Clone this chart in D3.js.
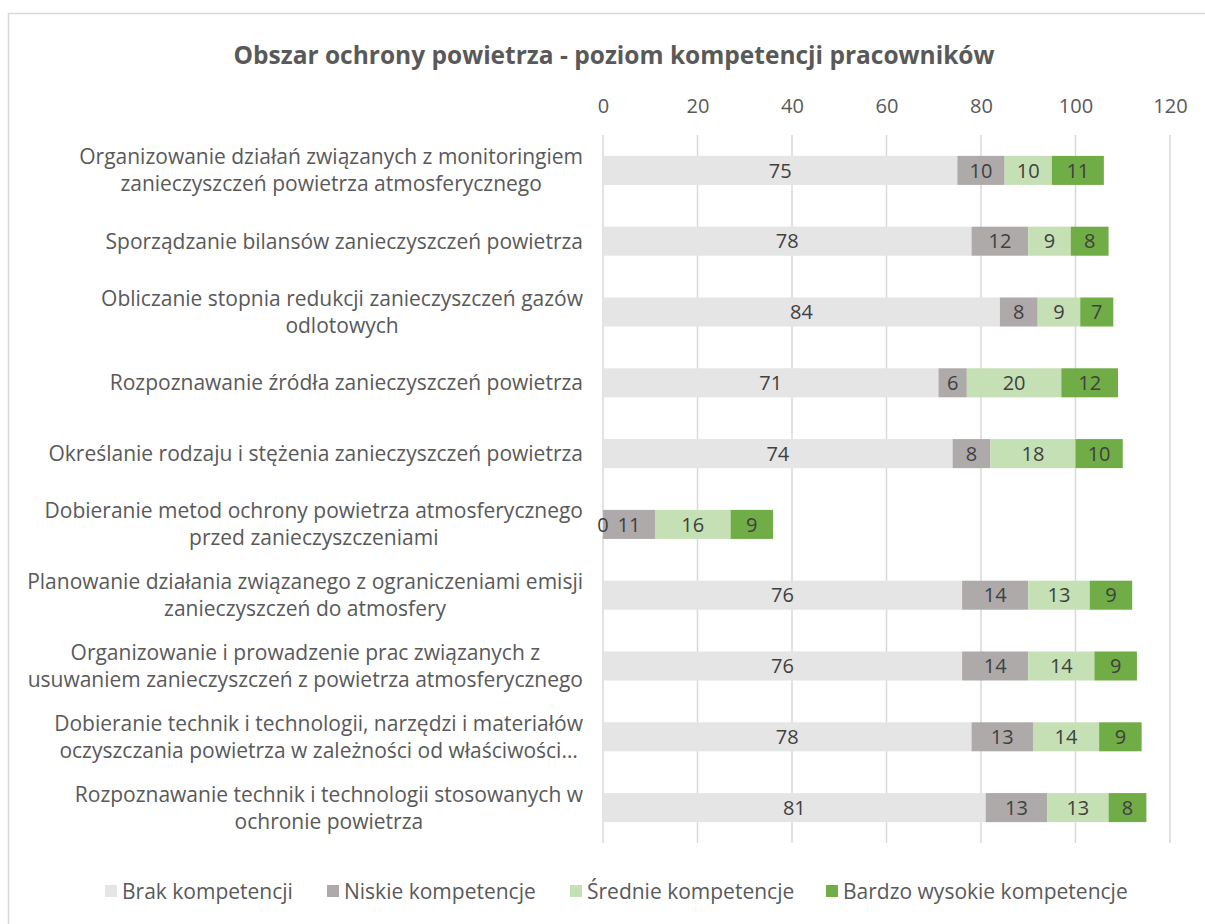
<!DOCTYPE html>
<html>
<head>
<meta charset="utf-8">
<script src="https://cdn.jsdelivr.net/npm/d3@7"></script>
<style>
  body { margin: 0; background: #fff; }
  text { font-family: "Open Sans", sans-serif; }
</style>
</head>
<body>
<div id="chart"></div>
<script>
const WIDTH = 1205;
const HEIGHT = 924;

// Data
const categories = [
  ["Organizowanie działań związanych z monitoringiem", "zanieczyszczeń powietrza atmosferycznego"],
  ["Sporządzanie bilansów zanieczyszczeń powietrza"],
  ["Obliczanie stopnia redukcji zanieczyszczeń gazów", "odlotowych"],
  ["Rozpoznawanie źródła zanieczyszczeń powietrza"],
  ["Określanie rodzaju i stężenia zanieczyszczeń powietrza"],
  ["Dobieranie metod ochrony powietrza atmosferycznego", "przed zanieczyszczeniami"],
  ["Planowanie działania związanego z ograniczeniami emisji", "zanieczyszczeń do atmosfery"],
  ["Organizowanie i prowadzenie prac związanych z", "usuwaniem zanieczyszczeń z powietrza atmosferycznego"],
  ["Dobieranie technik i technologii, narzędzi i materiałów", "oczyszczania powietrza w zależności od właściwości…"],
  ["Rozpoznawanie technik i technologii stosowanych w", "ochronie powietrza"],
];
const seriesNames = ["Brak kompetencji", "Niskie kompetencje", "Średnie kompetencje", "Bardzo wysokie kompetencje"];
const brak = [75, 78, 84, 71, 74, 0, 76, 76, 78, 81];
const niskie = [10, 12, 8, 6, 8, 11, 14, 14, 13, 13];
const srednie = [10, 9, 9, 20, 18, 16, 13, 14, 14, 13];
const bardzo = [11, 8, 7, 12, 10, 9, 9, 9, 9, 8];
const xTicks = [0, 20, 40, 60, 80, 100, 120];
const colors = ["#e5e5e5", "#aeaaaa", "#c5e0b4", "#70ad47"];

const rows = categories.map((c, i) => ({
  idx: i,
  s0: brak[i], s1: niskie[i], s2: srednie[i], s3: bardzo[i],
}));
const keys = ["s0", "s1", "s2", "s3"];

const svg = d3.select("#chart").append("svg")
  .attr("width", WIDTH).attr("height", HEIGHT);

// Chart frame
svg.append("rect")
  .attr("x", 8.5).attr("y", 13.5)
  .attr("width", WIDTH + 20).attr("height", HEIGHT + 20)
  .attr("fill", "#fff").attr("stroke", "#d9d9d9").attr("stroke-width", 1.5);

// Title
svg.append("text")
  .attr("x", 614).attr("y", 64)
  .attr("text-anchor", "middle")
  .attr("font-size", "24.5px").attr("font-weight", "bold")
  .attr("fill", "#595959")
  .text("Obszar ochrony powietrza - poziom kompetencji pracowników");

const x = d3.scaleLinear().domain([0, 120]).range([603, 1170]);
const y = d3.scaleBand().domain(d3.range(categories.length)).range([135, 843]).paddingInner(0.59).paddingOuter(0.295);

// Gridlines
svg.append("g").selectAll("line").data(xTicks).join("line")
  .attr("x1", d => x(d)).attr("x2", d => x(d))
  .attr("y1", 135).attr("y2", 843)
  .attr("stroke", "#d9d9d9").attr("stroke-width", 1.5);

// Top axis labels
const axis = svg.append("g")
  .attr("transform", "translate(0,113)")
  .call(d3.axisTop(x).tickValues(xTicks).tickSize(0).tickPadding(0));
axis.select(".domain").remove();
axis.selectAll("text")
  .attr("font-family", "Open Sans, sans-serif")
  .attr("font-size", "20px").attr("fill", "#595959");

// Stacked bars
const stack = d3.stack().keys(keys)(rows);
const layer = svg.append("g").selectAll("g").data(stack).join("g")
  .attr("fill", (d, i) => colors[i]);
layer.selectAll("rect").data(d => d).join("rect")
  .attr("x", d => x(d[0]))
  .attr("width", d => x(d[1]) - x(d[0]))
  .attr("y", d => y(d.data.idx))
  .attr("height", y.bandwidth());

// Data labels
const labels = svg.append("g").selectAll("g").data(stack).join("g");
labels.selectAll("text").data(d => d.map(v => ({v, key: d.key}))).join("text")
  .attr("x", d => (x(d.v[0]) + x(d.v[1])) / 2)
  .attr("y", d => y(d.v.data.idx) + y.bandwidth() / 2)
  .attr("dy", "0.36em")
  .attr("text-anchor", "middle")
  .attr("font-size", "20px").attr("fill", "#404040")
  .text(d => d.v.data[d.key]);

// Category labels: block right-aligned, lines centered
const lineH = 27;
const catG = svg.append("g");
categories.forEach((lines, i) => {
  const cy = y(i) + y.bandwidth() / 2;
  const t = catG.append("text")
    .attr("font-size", "21px").attr("fill", "#595959")
    .attr("text-anchor", "middle");
  lines.forEach((ln, j) => {
    t.append("tspan")
      .attr("y", cy + (j - (lines.length - 1) / 2) * lineH)
      .attr("dy", "0.36em")
      .text(ln);
  });
  const w = d3.max(t.selectAll("tspan").nodes(), n => n.getComputedTextLength());
  t.selectAll("tspan").attr("x", 583 - w / 2);
});

// Legend
const legendX = [105, 327, 570, 826];
const leg = svg.append("g").selectAll("g").data(seriesNames).join("g")
  .attr("transform", (d, i) => `translate(${legendX[i]},891)`);
leg.append("rect")
  .attr("x", 0).attr("y", -6).attr("width", 12).attr("height", 12)
  .attr("fill", (d, i) => colors[i]);
leg.append("text")
  .attr("x", 17).attr("dy", "0.36em")
  .attr("font-size", "21px").attr("fill", "#595959")
  .text(d => d);
</script>
</body>
</html>
